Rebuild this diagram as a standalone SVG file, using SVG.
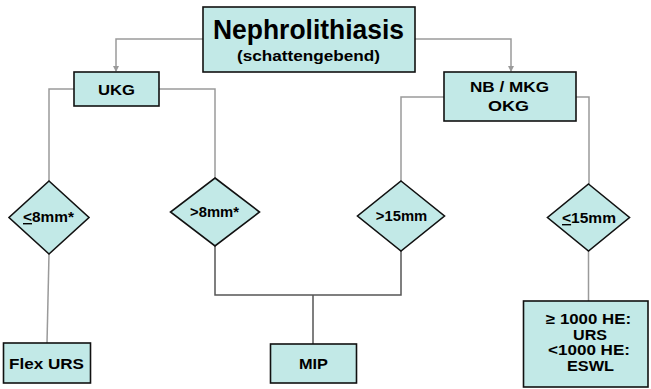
<svg xmlns="http://www.w3.org/2000/svg" width="651" height="389" viewBox="0 0 651 389">
<style>
.box{fill:#c2e9e7;stroke:#111;stroke-width:1.6}
.t{font-family:"Liberation Sans",Arial,sans-serif;font-weight:bold;fill:#000;text-anchor:middle}
.c{fill:none;stroke:#9a9a9a;stroke-width:1.5}
.cd{fill:none;stroke:#555;stroke-width:1.5}
</style>
<defs>
<marker id="ah" markerWidth="6" markerHeight="6" refX="5" refY="3" orient="auto" markerUnits="userSpaceOnUse">
<path d="M0,0 L6,3 L0,6 z" fill="#9a9a9a"/>
</marker>
</defs>
<g id="connectors">
<path class="c" d="M203,39 H116 V71" marker-end="url(#ah)"/>
<path class="c" d="M415,39 H511 V71" marker-end="url(#ah)"/>
<path class="c" d="M74,89 H49 V181"/>
<path class="c" d="M159,89 H215 V178"/>
<path class="c" d="M444,97 H401 V181"/>
<path class="c" d="M576,97 H589 V184"/>
<path class="c" d="M49,254 L47,343"/>
<path class="cd" d="M215,246 V295 H401 V251"/>
<path class="cd" d="M313,295 V344"/>
<path class="c" d="M588.5,251 V301"/>
</g>
<g id="nephrolithiasis">
<rect class="box" x="203" y="7" width="212" height="65"/>
<text class="t" x="308.5" y="38.5" font-size="27" textLength="191" lengthAdjust="spacingAndGlyphs">Nephrolithiasis</text>
<text class="t" x="308.5" y="60.5" font-size="15" textLength="143" lengthAdjust="spacingAndGlyphs">(schattengebend)</text>
</g>
<g id="ukg">
<rect class="box" x="74" y="72" width="85" height="34"/>
<text class="t" x="116.5" y="94.5" font-size="15.5" textLength="37" lengthAdjust="spacingAndGlyphs">UKG</text>
</g>
<g id="nbmkg">
<rect class="box" x="444" y="72" width="132" height="49"/>
<text class="t" x="509.5" y="92" font-size="15.5" textLength="79" lengthAdjust="spacingAndGlyphs">NB / MKG</text>
<text class="t" x="508.5" y="111" font-size="15.5" textLength="41" lengthAdjust="spacingAndGlyphs">OKG</text>
</g>
<g id="d-le8">
<polygon class="box" points="49,181 89,217.5 49,254 9,217.5"/>
<text class="t" x="48.5" y="222" font-size="14" textLength="51" lengthAdjust="spacingAndGlyphs"><tspan text-decoration="underline">&lt;</tspan>8mm*</text>
</g>
<g id="d-gt8">
<polygon class="box" points="215,178 259.5,212 215,246 170.5,212"/>
<text class="t" x="214.5" y="217" font-size="14" textLength="49" lengthAdjust="spacingAndGlyphs">&gt;8mm*</text>
</g>
<g id="d-gt15">
<polygon class="box" points="401,181 444.5,216 401,251 357.5,216"/>
<text class="t" x="401.5" y="221" font-size="14" textLength="51.5" lengthAdjust="spacingAndGlyphs">&gt;15mm</text>
</g>
<g id="d-le15">
<polygon class="box" points="588.5,184 629.5,217.5 588.5,251 547.5,217.5"/>
<text class="t" x="589" y="223" font-size="14" textLength="54" lengthAdjust="spacingAndGlyphs"><tspan text-decoration="underline">&lt;</tspan>15mm</text>
</g>
<g id="flexurs">
<rect class="box" x="3.5" y="343" width="87" height="40"/>
<text class="t" x="46.5" y="368.5" font-size="15.5" textLength="75" lengthAdjust="spacingAndGlyphs">Flex URS</text>
</g>
<g id="mip">
<rect class="box" x="270.5" y="344" width="86" height="39"/>
<text class="t" x="313.5" y="368.5" font-size="15.5" textLength="29" lengthAdjust="spacingAndGlyphs">MIP</text>
</g>
<g id="he">
<rect class="box" x="523.5" y="301" width="124.5" height="86"/>
<text class="t" x="588.5" y="323.5" font-size="14.5" textLength="85" lengthAdjust="spacingAndGlyphs">≥ 1000 HE:</text>
<text class="t" x="590" y="339.5" font-size="14.5" textLength="34" lengthAdjust="spacingAndGlyphs">URS</text>
<text class="t" x="589" y="355" font-size="14.5" textLength="82" lengthAdjust="spacingAndGlyphs">&lt;1000 HE:</text>
<text class="t" x="590.5" y="370.5" font-size="14.5" textLength="47" lengthAdjust="spacingAndGlyphs">ESWL</text>
</g>
</svg>
